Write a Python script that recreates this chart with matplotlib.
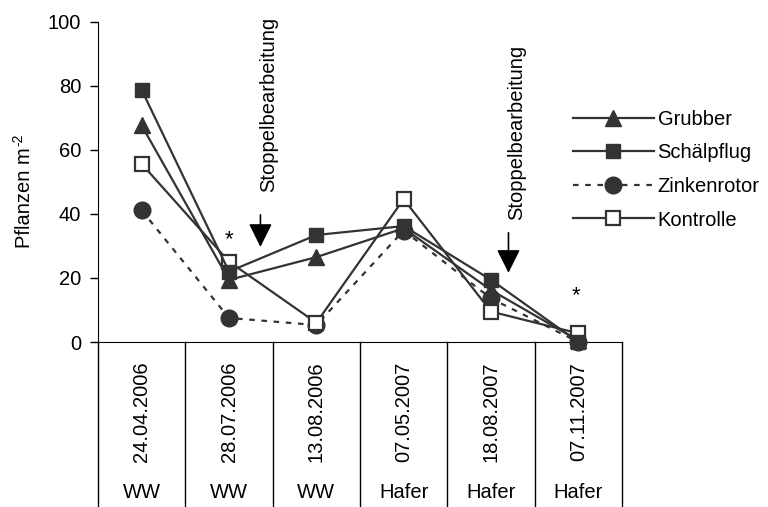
#!/usr/bin/env python3
"""
Pflanzendichte nach Bodenbearbeitung - Liniendiagramm mit Datumstabelle
"""
import matplotlib
matplotlib.use("Agg")
import matplotlib.pyplot as plt
import matplotlib.transforms as mtransforms

plt.rcParams["font.family"] = ["Liberation Sans", "DejaVu Sans"]

# ============================================================
# Daten
# ============================================================
dates = ["24.04.2006", "28.07.2006", "13.08.2006", "07.05.2007", "18.08.2007", "07.11.2007"]
crops = ["WW", "WW", "WW", "Hafer", "Hafer", "Hafer"]

grubber = [67.6, 19.4, 26.5, 35.5, 16.2, 0.5]
schaelpflug = [78.7, 22.0, 33.4, 36.2, 19.4, 0.0]
zinkenrotor = [41.1, 7.5, 5.3, 34.8, 13.6, 0.0]
kontrolle = [55.6, 25.1, 6.0, 44.6, 9.5, 2.7]

# Stoppelbearbeitung (Pfeil zwischen den Terminen), Signifikanzsterne
stoppel_x = [1.36, 4.20]
stoppel_top = [39.7, 34.1]
stoppel_tip = [29.7, 21.6]
stoppel_text_y = [46.9, 38.1]
stern_x = [1.0, 4.97]
stern_y = [30.3, 12.8]

FS = 14.5
DARK = "#333333"

fig = plt.figure(figsize=(7.68, 5.07), dpi=100)
ax = fig.add_axes([98 / 768, 1 - 342 / 507, (622 - 98) / 768, (342 - 21.7) / 507])

x = list(range(len(dates)))
h_zr, = ax.plot(x, zinkenrotor, color=DARK, lw=1.6, linestyle=(0, (2.5, 3)),
                marker="o", ms=12, mfc=DARK, mec=DARK, clip_on=False, zorder=3)
h_gr, = ax.plot(x, grubber, color=DARK, lw=1.6, marker="^", ms=11,
                mfc=DARK, mec=DARK, clip_on=False, zorder=4)
h_ko, = ax.plot(x, kontrolle, color=DARK, lw=1.6, marker="s", ms=10,
                mfc="white", mec=DARK, mew=1.6, clip_on=False, zorder=5)
h_sp, = ax.plot(x, schaelpflug, color=DARK, lw=1.6, marker="s", ms=10.5,
                mfc=DARK, mec=DARK, clip_on=False, zorder=6)

ax.set_xlim(-0.5, len(dates) - 0.5)
ax.set_ylim(0, 100)
ax.set_yticks([0, 20, 40, 60, 80, 100])
ax.tick_params(axis="y", direction="out", length=6, width=1, pad=6, labelsize=FS)
ax.tick_params(axis="x", length=0, labelbottom=False)
for s in ["top", "right"]:
    ax.spines[s].set_visible(False)

# y-Achsentitel mit hochgestelltem "-2" (Bindestrich statt Minuszeichen)
ylab = fig.text(25 / 768, 1 - 248 / 507, "Pflanzen m", rotation=90,
                rotation_mode="anchor", ha="left", va="center", fontsize=FS)
fig.canvas.draw()
bb = ylab.get_window_extent()
fig.text(18 / 768, (bb.y1 + 1) / 507, "-2", rotation=90, rotation_mode="anchor",
         ha="left", va="center", fontsize=10)

# Tabelle unter der x-Achse: Datum + Kultur
trans = mtransforms.blended_transform_factory(ax.transData, ax.transAxes)
for b in [i - 0.5 for i in range(len(dates) + 1)]:
    ax.plot([b, b], [0, -0.6], transform=trans, color="black", lw=1, clip_on=False)
for i, (d, c) in enumerate(zip(dates, crops)):
    ax.text(i, -0.2185, d, transform=trans, rotation=90, ha="center", va="center",
            fontsize=FS)
    ax.text(i, -0.471, c, transform=trans, ha="center", va="center", fontsize=FS)

# Stoppelbearbeitung: Pfeile + Beschriftung
for sx, top, tip, ty in zip(stoppel_x, stoppel_top, stoppel_tip, stoppel_text_y):
    ax.annotate("", xy=(sx, tip), xytext=(sx, top),
                arrowprops=dict(arrowstyle="-|>,head_length=1.0,head_width=0.5",
                                mutation_scale=14.4, color="black", lw=1.2,
                                shrinkA=0, shrinkB=0))
    ax.text(sx + 0.09, ty, "Stoppelbearbeitung", rotation=90,
            ha="center", va="bottom", fontsize=FS, clip_on=False)

for sx, sy in zip(stern_x, stern_y):
    ax.text(sx, sy, "*", ha="center", va="baseline", fontsize=16)

ax.legend([h_gr, h_sp, h_zr, h_ko],
          ["Grubber", "Schälpflug", "Zinkenrotor", "Kontrolle"],
          loc="upper left", bbox_to_anchor=(573 / 768, 1 - 110 / 507),
          bbox_transform=fig.transFigure, frameon=False, fontsize=FS,
          handlelength=4.0, handletextpad=0.2, labelspacing=0.72,
          borderpad=0, borderaxespad=0)

plt.savefig("out.png", dpi=100)
plt.close()
